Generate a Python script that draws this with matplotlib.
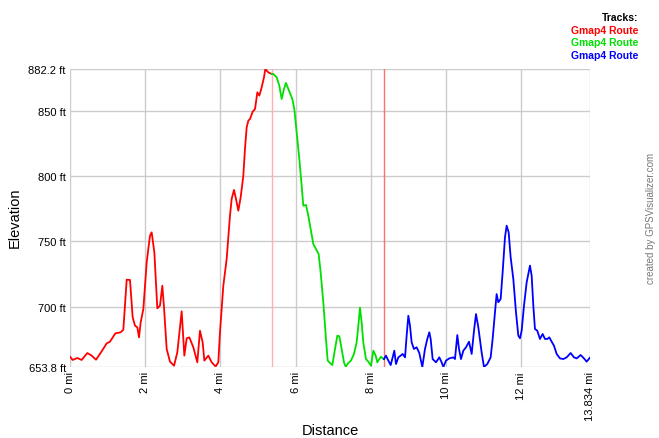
import matplotlib
matplotlib.use("Agg")
import matplotlib.pyplot as plt

plt.rcParams['font.family'] = ['Liberation Sans', 'DejaVu Sans']

# track 1 (red)
red_dist = [0.0, 0.071, 0.195, 0.310, 0.461, 0.576, 0.692, 0.842, 0.975, 1.064, 1.206, 1.348,
            1.419, 1.508, 1.596, 1.667, 1.729, 1.791, 1.836, 1.880, 1.951, 2.040, 2.128, 2.173,
            2.244, 2.323, 2.394, 2.456, 2.501, 2.572, 2.660, 2.767, 2.855, 2.971, 3.042, 3.104,
            3.175, 3.281, 3.387, 3.458, 3.529, 3.574, 3.680, 3.769, 3.875, 3.946, 3.990, 4.079,
            4.168, 4.256, 4.301, 4.363, 4.416, 4.478, 4.540, 4.611, 4.655, 4.700, 4.744, 4.789,
            4.860, 4.922, 4.984, 5.037, 5.099, 5.161, 5.196, 5.276, 5.365]
red_elev = [661.7, 659.2, 660.7, 659.2, 664.5, 662.5, 659.4, 665.8, 671.9, 673.2, 679.6, 680.4,
            682.4, 720.7, 720.5, 691.9, 685.5, 684.2, 676.5, 688.0, 698.2, 734.0, 754.5, 757.0,
            741.7, 698.8, 700.8, 716.1, 699.5, 667.6, 657.9, 654.8, 665.0, 696.5, 662.5, 675.8,
            676.5, 668.9, 657.4, 681.6, 672.7, 658.7, 662.5, 657.4, 654.2, 657.4, 680.4, 716.1,
            736.6, 769.8, 782.6, 789.5, 782.6, 773.6, 783.8, 800.4, 820.9, 837.5, 842.6, 843.9,
            849.5, 851.5, 864.3, 861.8, 868.1, 875.8, 882.2, 879.6, 878.4]

# track 2 (green)
green_dist = [5.365, 5.409, 5.498, 5.569, 5.631, 5.693, 5.746, 5.808, 5.915, 5.968, 6.030, 6.101,
              6.163, 6.207, 6.278, 6.340, 6.402, 6.473, 6.544, 6.615, 6.668, 6.739, 6.810, 6.855,
              6.917, 6.979, 7.050, 7.112, 7.165, 7.227, 7.289, 7.334, 7.405, 7.475, 7.555, 7.626,
              7.679, 7.715, 7.759, 7.803, 7.874, 7.936, 8.008, 8.070, 8.132, 8.176, 8.229, 8.273,
              8.318, 8.353]
green_elev = [878.4, 878.4, 875.8, 869.4, 859.2, 866.9, 871.5, 866.9, 859.2, 851.5, 833.7, 813.2,
              792.8, 777.4, 778.0, 769.8, 759.6, 748.1, 744.2, 740.4, 726.4, 703.4, 675.3, 658.7,
              656.9, 655.3, 667.6, 677.8, 677.3, 667.6, 657.4, 654.0, 656.9, 658.7, 663.8, 672.7,
              688.0, 699.3, 688.0, 672.7, 659.9, 657.9, 654.8, 666.3, 662.5, 657.4, 659.9, 661.7,
              660.4, 659.9]

# track 3 (blue)
blue_dist = [8.353, 8.406, 8.469, 8.531, 8.584, 8.628, 8.673, 8.735, 8.797, 8.850, 8.913, 8.956,
             9.001, 9.045, 9.089, 9.151, 9.222, 9.293, 9.373, 9.444, 9.506, 9.559, 9.595, 9.648,
             9.737, 9.825, 9.887, 9.932, 10.003, 10.091, 10.198, 10.242, 10.304, 10.349, 10.402,
             10.464, 10.535, 10.615, 10.686, 10.748, 10.801, 10.863, 10.951, 11.014, 11.102,
             11.191, 11.244, 11.306, 11.350, 11.395, 11.457, 11.510, 11.572, 11.617, 11.670,
             11.723, 11.794, 11.865, 11.927, 11.971, 12.016, 12.078, 12.149, 12.193, 12.237,
             12.282, 12.326, 12.370, 12.432, 12.503, 12.574, 12.636, 12.698, 12.752, 12.814,
             12.876, 12.947, 13.035, 13.124, 13.213, 13.319, 13.408, 13.479, 13.585, 13.674,
             13.745, 13.816, 13.834]
blue_elev = [659.9, 662.5, 658.7, 655.3, 661.2, 666.3, 656.1, 661.2, 662.5, 663.8, 661.2, 677.8,
             693.1, 685.5, 672.7, 667.6, 668.9, 664.5, 653.8, 667.6, 675.3, 680.4, 675.3, 659.9,
             657.4, 661.2, 657.4, 653.8, 658.7, 660.4, 661.2, 659.9, 678.3, 667.6, 659.9,
             666.3, 668.9, 673.2, 663.8, 681.6, 694.4, 684.2, 665.0, 653.8, 656.1,
             661.2, 675.3, 695.7, 709.7, 703.4, 705.9, 726.4, 753.2, 762.1, 757.0,
             737.9, 721.2, 695.7, 677.8, 675.8, 681.6, 700.8, 718.7, 725.1, 731.5,
             723.8, 700.8, 682.9, 681.6, 675.3, 679.1, 675.3, 675.3, 676.5, 673.2,
             670.1, 663.8, 660.4, 659.9, 661.2, 664.5, 661.2, 660.4, 663.0, 660.4,
             657.9, 660.4, 661.0]

track_colors = ['#ff0000', '#00e000', '#0000ff']
track_names = ['Gmap4 Route', 'Gmap4 Route', 'Gmap4 Route']
split_dist = [5.365, 8.353]
split_colors = ['#ffb0b0', '#ff7070']

x_ticks = [0, 2, 4, 6, 8, 10, 12, 13.834]
x_labels = ['0 mi', '2 mi', '4 mi', '6 mi', '8 mi', '10 mi', '12 mi', '13.834 mi']
y_ticks = [653.8, 700, 750, 800, 850, 882.2]
y_labels = ['653.8 ft', '700 ft', '750 ft', '800 ft', '850 ft', '882.2 ft']

fig = plt.figure(figsize=(6.59, 4.39), dpi=100)
ax = fig.add_axes([70 / 659, 1 - 368 / 439, 520 / 659, 298 / 439])

ax.set_xlim(0, 13.834)
ax.set_ylim(653.8, 882.2)

for t in x_ticks:
    ax.axvline(t, color='#cccccc', lw=1, zorder=0)
for t in y_ticks:
    ax.axhline(t, color='#cccccc', lw=1, zorder=0)
for d, c in zip(split_dist, split_colors):
    ax.axvline(d, color=c, lw=1, zorder=1)

ax.plot(red_dist, red_elev, color=track_colors[0], lw=1.3, zorder=3)
ax.plot(green_dist, green_elev, color=track_colors[1], lw=1.3, zorder=3)
ax.plot(blue_dist, blue_elev, color=track_colors[2], lw=1.3, zorder=3)

for s in ax.spines.values():
    s.set_visible(False)
ax.set_xticks(x_ticks)
ax.set_xticklabels(x_labels, rotation=90, fontsize=8)
ax.set_yticks(y_ticks)
ax.set_yticklabels(y_labels, fontsize=8)
ax.tick_params(length=0, pad=3)

# axis titles
fig.text(330 / 659, 1 - 431 / 439, 'Distance', ha='center', va='center', fontsize=10.5)
fig.text(15 / 659, 1 - 218 / 439, 'Elevation', rotation=90, ha='center', va='center',
         fontsize=10.5)

fig.text(638 / 659, 1 - 18 / 439, 'Tracks:', ha='right', va='center',
         fontsize=7.5, fontweight='bold', color='black')
for i, (name, c) in enumerate(zip(track_names, track_colors)):
    fig.text(638 / 659, 1 - (31 + 12.5 * i) / 439, name, ha='right', va='center',
             fontsize=7.5, fontweight='bold', color=c)

fig.text(651 / 659, 1 - 218 / 439, 'created by GPSVisualizer.com', rotation=90,
         ha='center', va='center', fontsize=7, color='#777777')

fig.savefig('out.png', dpi=100)
